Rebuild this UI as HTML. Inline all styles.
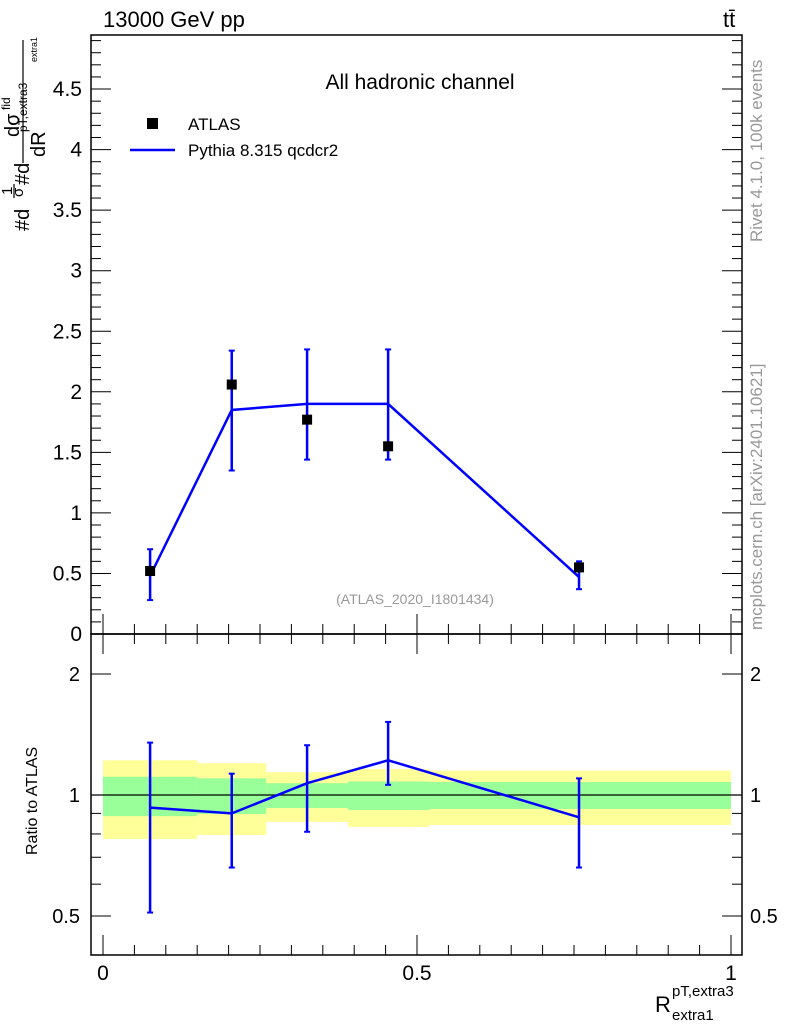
<!DOCTYPE html>
<html><head><meta charset="utf-8"><style>
body{margin:0;background:#fff;}
svg text{font-family:"Liberation Sans",sans-serif;}
</style></head><body>
<svg id="c" width="786" height="1024" viewBox="0 0 786 1024" xmlns="http://www.w3.org/2000/svg"></svg>
<script>
const xCenters=[0.075,0.205,0.325,0.454,0.758];
const binEdges=[0,0.15,0.26,0.39,0.52,1.0];
const dataVals=[0.52,2.06,1.77,1.55,0.55];
const dataLo=[0.28,1.35,1.44,1.44,0.37];
const dataHi=[0.70,2.34,2.35,2.35,0.60];
const mcVals=[0.48,1.85,1.90,1.90,0.47];
const ratioVals=[0.93,0.90,1.07,1.22,0.88];
const ratioLo=[0.51,0.66,0.81,1.06,0.66];
const ratioHi=[1.35,1.13,1.33,1.52,1.10];
const yellowLo=[0.777,0.795,0.857,0.833,0.842];
const yellowHi=[1.22,1.20,1.14,1.16,1.15];
const greenLo=[0.886,0.897,0.928,0.918,0.923];
const greenHi=[1.11,1.10,1.07,1.08,1.077];
const yTicks=[0,0.5,1,1.5,2,2.5,3,3.5,4,4.5];
const yTickLabels=["0","0.5","1","1.5","2","2.5","3","3.5","4","4.5"];
const xTicks=[0,0.5,1];
const xTickLabels=["0","0.5","1"];
const rTicks=[0.5,1,2];
const rTickLabels=["0.5","1","2"];

const S=document.getElementById('c');
const NS='http://www.w3.org/2000/svg';
function mk(t,a,txt){const e=document.createElementNS(NS,t);for(const k in a)e.setAttribute(k,a[k]);if(txt!==undefined)e.textContent=txt;S.appendChild(e);return e;}
const L=91,R=742,T=35,M=634,B=955;
const X=v=>103+v*628;
const Y=v=>634-v*121.1;
const YR=v=>795-121*Math.log2(v);

for(let i=0;i<5;i++){
 let e=mk('rect',{x:X(binEdges[i]),y:YR(yellowHi[i]),width:X(binEdges[i+1])-X(binEdges[i]),height:YR(yellowLo[i])-YR(yellowHi[i]),fill:'#ffff99'});
 
 
}
for(let i=0;i<5;i++){
 let e=mk('rect',{x:X(binEdges[i]),y:YR(greenHi[i]),width:X(binEdges[i+1])-X(binEdges[i]),height:YR(greenLo[i])-YR(greenHi[i]),fill:'#99ff99'});
 
 
}
let ul=mk('line',{x1:L,x2:R,y1:YR(1),y2:YR(1),stroke:'#000','stroke-width':1.3});



let f1=mk('rect',{x:L,y:T,width:R-L,height:M-T,fill:'none',stroke:'#000','stroke-width':1.5});


let f2=mk('rect',{x:L,y:M,width:R-L,height:B-M,fill:'none',stroke:'#000','stroke-width':1.5});



for(let v=0;v<=4.95;v+=0.1){const y=Y(v);const maj=Math.abs(v/0.5-Math.round(v/0.5))<1e-6;const l=maj?20:10;
 mk('line',{x1:L,x2:L+l,y1:y,y2:y,stroke:'#000'});mk('line',{x1:R,x2:R-l,y1:y,y2:y,stroke:'#000'});}
yTicks.forEach((v,i)=>{let t=mk('text',{x:82,y:Y(v)+7,'text-anchor':'end','font-size':21},yTickLabels[i]);
 
 });
for(let v=0;v<=1.0001;v+=0.05){const x=X(v);const maj=Math.abs(v*2-Math.round(v*2))<1e-6;const l=maj?20:10;
 mk('line',{x1:x,x2:x,y1:M,y2:M-l,stroke:'#000'});mk('line',{x1:x,x2:x,y1:B,y2:B-l,stroke:'#000'});
 mk('line',{x1:x,x2:x,y1:M,y2:M+l,stroke:'#000'});}
xTicks.forEach((v,i)=>{let t=mk('text',{x:X(v),y:980,'text-anchor':'middle','font-size':21},xTickLabels[i]);
 
 });
[0.4,0.5,0.6,0.7,0.8,0.9,1,2].forEach(v=>{const maj=[0.5,1,2].includes(v);const l=maj?20:10;
 mk('line',{x1:L,x2:L+l,y1:YR(v),y2:YR(v),stroke:'#000'});mk('line',{x1:R,x2:R-l,y1:YR(v),y2:YR(v),stroke:'#000'});});
rTicks.forEach((v,i)=>{let t=mk('text',{x:80,y:YR(v)+7,'text-anchor':'end','font-size':20},rTickLabels[i]);
 
 
 let t2=mk('text',{x:750,y:YR(v)+7,'font-size':20},rTickLabels[i]);
 
 });

let p=mk('polyline',{points:xCenters.map((x,i)=>X(x)+','+Y(mcVals[i])).join(' '),fill:'none',stroke:'#0000ff','stroke-width':2.5});


xCenters.forEach((x,i)=>{
 let e=mk('line',{x1:X(x),x2:X(x),y1:Y(dataLo[i]),y2:Y(dataHi[i]),stroke:'#0000ff','stroke-width':2.5});
 
 
 mk('line',{x1:X(x)-3,x2:X(x)+3,y1:Y(dataLo[i]),y2:Y(dataLo[i]),stroke:'#0000ff','stroke-width':2});
 mk('line',{x1:X(x)-3,x2:X(x)+3,y1:Y(dataHi[i]),y2:Y(dataHi[i]),stroke:'#0000ff','stroke-width':2});
 let m=mk('rect',{x:X(x)-5,y:Y(dataVals[i])-5,width:10,height:10,fill:'#000'});
 
 
});
let rp=mk('polyline',{points:xCenters.map((x,i)=>X(x)+','+YR(ratioVals[i])).join(' '),fill:'none',stroke:'#0000ff','stroke-width':2.5});


xCenters.forEach((x,i)=>{
 let e=mk('line',{x1:X(x),x2:X(x),y1:YR(ratioLo[i]),y2:YR(ratioHi[i]),stroke:'#0000ff','stroke-width':2.5});
 
 
 mk('line',{x1:X(x)-3,x2:X(x)+3,y1:YR(ratioLo[i]),y2:YR(ratioLo[i]),stroke:'#0000ff','stroke-width':2});
 mk('line',{x1:X(x)-3,x2:X(x)+3,y1:YR(ratioHi[i]),y2:YR(ratioHi[i]),stroke:'#0000ff','stroke-width':2});
});
</script>
<svg width="786" height="1024" style="position:absolute;left:0;top:0" xmlns="http://www.w3.org/2000/svg">
<text x="103" y="27" font-size="22" font-family="Liberation Sans,sans-serif">13000 GeV pp</text>
<text x="723" y="27" font-size="22" font-family="Liberation Sans,sans-serif">tt̄</text>
<text x="420" y="89" font-size="21" text-anchor="middle" font-family="Liberation Sans,sans-serif">All hadronic channel</text>
<rect x="147" y="118" width="11" height="11" fill="#000"/>
<text x="188" y="130" font-size="17" font-family="Liberation Sans,sans-serif">ATLAS</text>
<line x1="130" x2="175" y1="150" y2="150" stroke="#0000ff" stroke-width="2.5"/>
<text x="188" y="156" font-size="17" font-family="Liberation Sans,sans-serif">Pythia 8.315 qcdcr2</text>
<text x="415" y="604" font-size="14" fill="#999" text-anchor="middle" font-family="Liberation Sans,sans-serif">(ATLAS_2020_I1801434)</text>
<text transform="translate(762,242) rotate(-90)" font-size="17" fill="#999" font-family="Liberation Sans,sans-serif">Rivet 4.1.0,  100k events</text>
<text transform="translate(762,630) rotate(-90)" font-size="17" fill="#999" font-family="Liberation Sans,sans-serif">mcplots.cern.ch [arXiv:2401.10621]</text>
<text transform="translate(37,855) rotate(-90)" font-size="16" font-family="Liberation Sans,sans-serif">Ratio to ATLAS</text>
<g font-family="Liberation Sans,sans-serif">
<text transform="translate(29,231) rotate(-90)" font-size="20">#d</text>
<text transform="translate(12,195) rotate(-90)" font-size="15">1</text>
<line x1="14" x2="14" y1="198" y2="184" stroke="#000" stroke-width="1.2"/>
<text transform="translate(23,197) rotate(-90)" font-size="15">σ</text>
<text transform="translate(29,185) rotate(-90)" font-size="20">#d</text>
<text transform="translate(19,137) rotate(-90)" font-size="20">dσ</text>
<text transform="translate(10,110) rotate(-90)" font-size="12">fid</text>
<text transform="translate(27,132) rotate(-90)" font-size="12">pT,extra3</text>
<line x1="23" x2="23" y1="163" y2="40" stroke="#000" stroke-width="1.2"/>
<text transform="translate(45,157) rotate(-90)" font-size="20">dR</text>
<text transform="translate(37,62) rotate(-90)" font-size="9">extra1</text>
</g>
<g font-family="Liberation Sans,sans-serif">
<text x="655" y="1012" font-size="22">R</text>
<text x="672" y="996" font-size="15">pT,extra3</text>
<text x="672" y="1020" font-size="15">extra1</text>
</g>
</svg>
</body></html>
